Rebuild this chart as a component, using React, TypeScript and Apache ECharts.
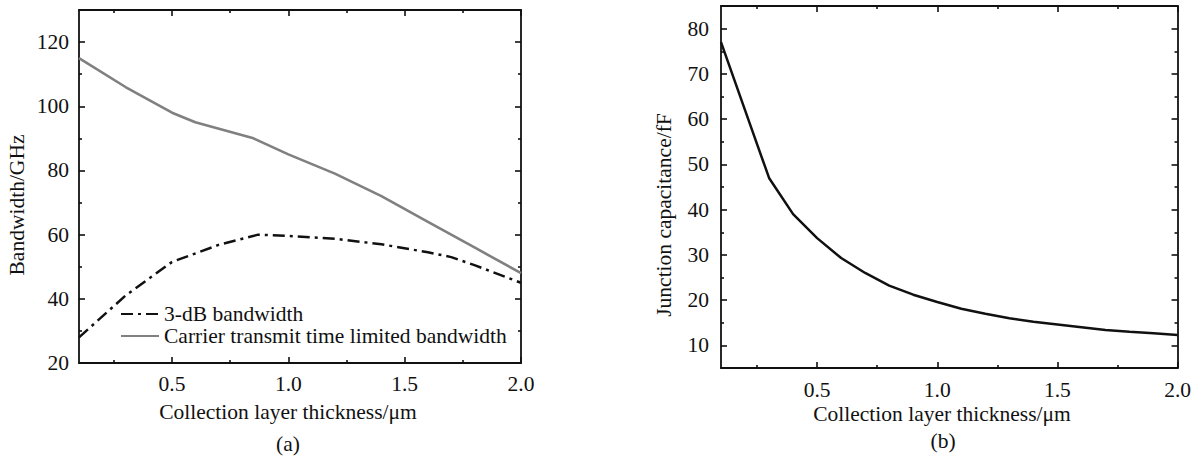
import React, { useEffect, useRef } from 'react';
import * as echarts from 'echarts';

// (a) bandwidth vs collection layer thickness
const bw3dBX = [0.1, 0.3, 0.5, 0.7, 0.87, 1.0, 1.2, 1.4, 1.6, 1.7, 1.8, 2.0];
const bw3dB = [28, 41, 51.5, 56.8, 60, 59.6, 58.7, 57, 54.5, 53, 50.5, 45];
const carrierX = [0.1, 0.3, 0.5, 0.6, 0.85, 1.0, 1.2, 1.4, 1.6, 1.8, 2.0];
const carrierBw = [115, 106, 98, 95, 90, 85, 79, 72, 64, 56, 48];

// (b) junction capacitance vs collection layer thickness
const capX = [0.1, 0.2, 0.3, 0.4, 0.5, 0.6, 0.7, 0.8, 0.9, 1.0, 1.1, 1.2, 1.3, 1.4, 1.5, 1.6, 1.7, 1.8, 1.9, 2.0];
const capFF = [77, 62, 47, 39, 33.7, 29.3, 26, 23.2, 21.2, 19.6, 18.1, 17, 16, 15.2, 14.6, 14, 13.4, 13, 12.7, 12.3];

// tick values
const xMajor = [0.5, 1.0, 1.5, 2.0];
const xMinor = [0.25, 0.75, 1.25, 1.75];
const bwMajor = [20, 40, 60, 80, 100, 120];
const bwMinor = [30, 50, 70, 90, 110];
const capMajor = [10, 20, 30, 40, 50, 60, 70, 80];
const capMinor = [15, 25, 35, 45, 55, 65, 75];

const seriesNames = ['3-dB bandwidth', 'Carrier transmit time limited bandwidth'];

const FONT = '"Liberation Serif", "Times New Roman", serif';
const FS = 21.5;
const INK = '#111111';

function makeAxes(
  gridIndex: number,
  min: number,
  max: number,
  major: number[],
  minor: number[],
  mainPos: string,
  mirrorPos: string,
  margin: number,
  fmt: (v: number) => string
) {
  const base: any = {
    type: 'value',
    gridIndex,
    min,
    max,
    splitLine: { show: false },
    axisLine: { show: true, onZero: false, lineStyle: { color: INK, width: 1.8 } },
  };
  const tickStyle = { color: INK, width: 1.6 };
  return [
    {
      ...base,
      position: mainPos,
      axisTick: { show: true, inside: true, length: 6, customValues: major, lineStyle: tickStyle },
      axisLabel: {
        show: true,
        customValues: major,
        margin,
        fontSize: FS,
        fontFamily: FONT,
        color: INK,
        formatter: (v: number) => fmt(v),
      },
    },
    {
      ...base,
      position: mainPos,
      axisLine: { show: false, onZero: false },
      axisTick: { show: true, inside: true, length: 3, customValues: minor, lineStyle: tickStyle },
      axisLabel: { show: false },
    },
    {
      ...base,
      position: mirrorPos,
      axisTick: { show: true, inside: true, length: 6, customValues: major, lineStyle: tickStyle },
      axisLabel: { show: false },
    },
    {
      ...base,
      position: mirrorPos,
      axisLine: { show: false, onZero: false },
      axisTick: { show: true, inside: true, length: 3, customValues: minor, lineStyle: tickStyle },
      axisLabel: { show: false },
    },
  ];
}

function textEl(text: string, x: number, y: number, rotate = false) {
  return {
    type: 'text',
    x,
    y,
    rotation: rotate ? Math.PI / 2 : 0,
    style: {
      text,
      fontSize: FS,
      fontFamily: FONT,
      fill: INK,
      align: 'center',
      verticalAlign: 'middle',
    },
  };
}

export default function App() {
  const ref = useRef<HTMLDivElement>(null);

  useEffect(() => {
    document.body.style.margin = '0';
    if (!ref.current) return;
    const chart = echarts.init(ref.current, undefined, { renderer: 'svg' });

    const fx = (v: number) => v.toFixed(1);
    const fy = (v: number) => String(Math.round(v));

    const option: any = {
      animation: false,
      backgroundColor: '#ffffff',
      grid: [
        { left: 79, top: 10, width: 442, height: 353 },
        { left: 721, top: 6, width: 457, height: 362 },
      ],
      xAxis: [
        ...makeAxes(0, 0.1, 2.0, xMajor, xMinor, 'bottom', 'top', 10, fx),
        ...makeAxes(1, 0.1, 2.0, xMajor, xMinor, 'bottom', 'top', 11, fx),
      ],
      yAxis: [
        ...makeAxes(0, 20, 130, bwMajor, bwMinor, 'left', 'right', 10, fy),
        ...makeAxes(1, 5, 85, capMajor, capMinor, 'left', 'right', 12, fy),
      ],
      legend: {
        data: seriesNames,
        orient: 'vertical',
        left: 120,
        top: 303,
        padding: 0,
        itemGap: 0,
        itemWidth: 38,
        itemHeight: 10,
        selectedMode: false,
        itemStyle: { opacity: 0 },
        textStyle: { fontSize: FS, fontFamily: FONT, color: INK },
      },
      series: [
        {
          type: 'line',
          name: seriesNames[0],
          xAxisIndex: 0,
          yAxisIndex: 0,
          data: bw3dBX.map((x, i) => [x, bw3dB[i]]),
          symbol: 'none',
          color: INK,
          lineStyle: { color: INK, width: 2.5, type: [12, 5, 3, 5] },
        },
        {
          type: 'line',
          name: seriesNames[1],
          xAxisIndex: 0,
          yAxisIndex: 0,
          data: carrierX.map((x, i) => [x, carrierBw[i]]),
          symbol: 'none',
          color: '#808080',
          lineStyle: { color: '#808080', width: 2.6 },
        },
        {
          type: 'line',
          name: 'Junction capacitance',
          xAxisIndex: 4,
          yAxisIndex: 4,
          data: capX.map((x, i) => [x, capFF[i]]),
          symbol: 'none',
          color: INK,
          lineStyle: { color: INK, width: 2.5 },
        },
      ],
      graphic: [
        textEl('Bandwidth/GHz', 17, 205, true),
        textEl('Collection layer thickness/\u03bcm', 288, 412),
        textEl('(a)', 288, 444),
        textEl('Junction capacitance/fF', 664, 215, true),
        textEl('Collection layer thickness/\u03bcm', 942, 414),
        textEl('(b)', 943, 441),
      ],
    };

    chart.setOption(option);
    return () => chart.dispose();
  }, []);

  return <div ref={ref} style={{ width: 1194, height: 462 }} />;
}
